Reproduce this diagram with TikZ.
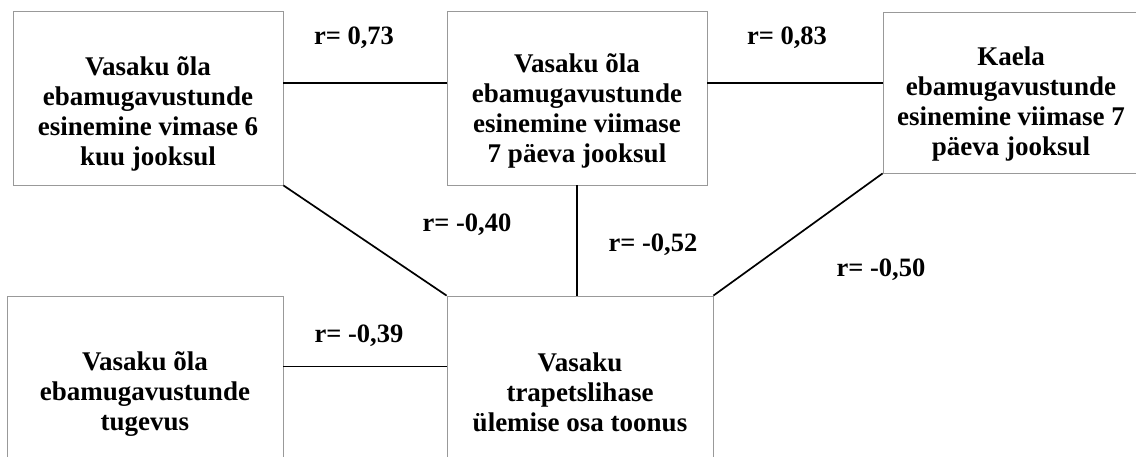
\documentclass[tikz,border=0pt]{standalone}
\usepackage{fontspec}
\setmainfont{Liberation Serif}
\begin{document}
\begin{tikzpicture}[x=1pt,y=-1pt,
  box/.style={draw=black!40, line width=0.8pt, inner sep=0pt, rectangle},
  txt/.style={align=center, font=\fontsize{27}{30}\selectfont\bfseries, inner sep=0pt},
  rlab/.style={anchor=base, font=\fontsize{26.5}{30}\selectfont\bfseries, inner sep=0pt},
  link/.style={draw=black, line width=1.7pt}]
\useasboundingbox (0,0) rectangle (1136,457);
\clip (0,0) rectangle (1136,457);
% boxes
\node[box, minimum width=270pt, minimum height=174pt] (A) at (148,98) {};
\node[box, minimum width=260pt, minimum height=174pt] (B) at (577,98) {};
\node[box, minimum width=262pt, minimum height=161pt] (C) at (1014,92.5) {};
\node[box, minimum width=276pt, minimum height=174pt] (D) at (145,383) {};
\node[box, minimum width=266pt, minimum height=174pt] (E) at (580,383) {};
% box texts
\node[txt] (At) at (148,113.5) {Vasaku õla\\ebamugavustunde\\esinemine vimase 6\\kuu jooksul};
\node[txt] (Bt) at (577,111) {Vasaku õla\\ebamugavustunde\\esinemine viimase\\7 päeva jooksul};
\node[txt] (Ct) at (1011,104) {Kaela\\ebamugavustunde\\esinemine viimase 7\\päeva jooksul};
\node[txt] (Dt) at (145,394.5) {Vasaku õla\\ebamugavustunde\\tugevus};
\node[txt] (Et) at (580,392) {Vasaku\\trapetslihase\\ülemise osa toonus};
% connectors
\draw[link] ([yshift=15pt]A.east) -- ([yshift=15pt]A.east -| B.west);
\draw[link] ([yshift=15pt]B.east) -- ([yshift=15pt]B.east -| C.west);
\draw[link] (A.south east) -- (E.north west);
\draw[link] (B.south) -- (B.south |- E.north);
\draw[link] (C.south west) -- (E.north east);
\draw[link] ([yshift=-71pt]D.north east) -- ([yshift=-71pt]D.north east -| E.west);
% labels
\node[rlab] (l1) at (354,45) {r= 0,73};
\node[rlab] (l2) at (787,45) {r= 0,83};
\node[rlab] (l3) at (467,232) {r= -0,40};
\node[rlab] (l4) at (653,252) {r= -0,52};
\node[rlab] (l5) at (881,277) {r= -0,50};
\node[rlab] (l6) at (359,342) {r= -0,39};
\end{tikzpicture}
\end{document}
